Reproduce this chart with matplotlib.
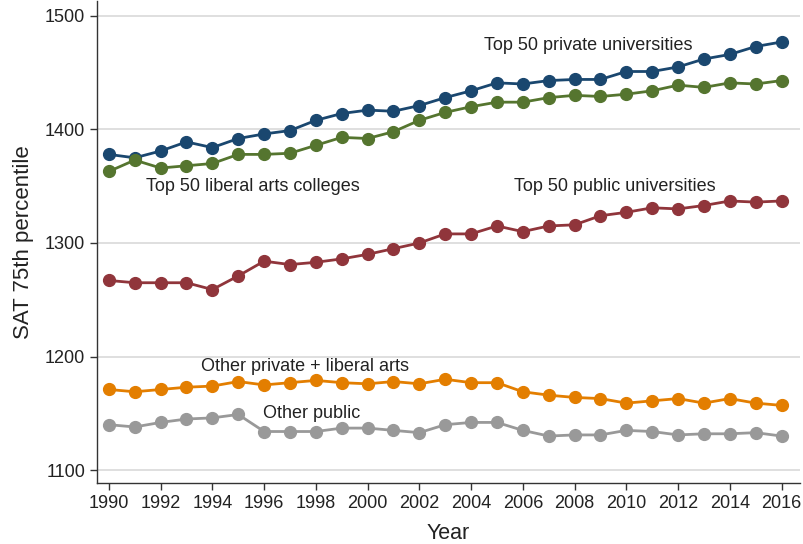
import matplotlib
matplotlib.use("Agg")
import matplotlib.pyplot as plt
from matplotlib import font_manager

years = list(range(1990, 2017))

top_private = [1378, 1375, 1381, 1389, 1384, 1392, 1396, 1399, 1408, 1414, 1417, 1416, 1421,
               1428, 1434, 1441, 1440, 1443, 1444, 1444, 1451, 1451, 1455, 1462, 1466, 1473, 1477]
top_libarts = [1363, 1373, 1366, 1368, 1370, 1378, 1378, 1379, 1386, 1393, 1392, 1398, 1408,
               1415, 1420, 1424, 1424, 1428, 1430, 1429, 1431, 1434, 1439, 1437, 1441, 1440, 1443]
top_public = [1267, 1265, 1265, 1265, 1259, 1271, 1284, 1281, 1283, 1286, 1290, 1295, 1300,
              1308, 1308, 1315, 1310, 1315, 1316, 1324, 1327, 1331, 1330, 1333, 1337, 1336, 1337]
other_private = [1171, 1169, 1171, 1173, 1174, 1178, 1175, 1177, 1179, 1177, 1176, 1178, 1176,
                 1180, 1177, 1177, 1169, 1166, 1164, 1163, 1159, 1161, 1163, 1159, 1163, 1159, 1157]
other_public = [1140, 1138, 1142, 1145, 1146, 1149, 1134, 1134, 1134, 1137, 1137, 1135, 1133,
                1140, 1142, 1142, 1135, 1130, 1131, 1131, 1135, 1134, 1131, 1132, 1132, 1133, 1130]

series = [
    (top_private, "#1a476f", "Top 50 private universities", 2004.5, 1474),
    (top_libarts, "#55752f", "Top 50 liberal arts colleges", 1991.45, 1350),
    (top_public, "#90353b", "Top 50 public universities", 2005.65, 1350),
    (other_private, "#e37e00", "Other private + liberal arts", 1993.55, 1191),
    (other_public, "#999999", "Other public", 1995.95, 1150),
]

xticks = list(range(1990, 2017, 2))
yticks = [1100, 1200, 1300, 1400, 1500]

names = {f.name for f in font_manager.fontManager.ttflist}
narrow = "Liberation Sans Narrow" if "Liberation Sans Narrow" in names else "Liberation Sans"
plt.rcParams['font.family'] = ['Liberation Sans', 'DejaVu Sans']

fig = plt.figure(figsize=(8.04, 5.44), dpi=100)
ax = fig.add_axes([0.1206, 0.112, 0.874, 0.886])

for vals, col, lab, lx, ly in series:
    ax.plot(years, vals, color=col, lw=2.0, marker='o', markersize=8.5, zorder=3)
    ax.text(lx, ly, lab, fontsize=13, color="#222222", ha='left', va='center', zorder=4)

ax.set_xlim(1989.54, 2016.7)
ax.set_ylim(1088.6, 1513)
ax.set_xticks(xticks)
ax.set_yticks(yticks)
ax.set_xticklabels([str(t) for t in xticks], fontsize=13, family=[narrow, 'DejaVu Sans'])
ax.set_yticklabels([str(t) for t in yticks], fontsize=13, family=[narrow, 'DejaVu Sans'])
ax.grid(axis='y', color='#d9d9d9', lw=1.2, zorder=0)
for s in ['top', 'right']:
    ax.spines[s].set_visible(False)
for s in ['left', 'bottom']:
    ax.spines[s].set_color('#333333')
    ax.spines[s].set_linewidth(1.0)
ax.tick_params(axis='both', direction='out', length=5, width=1.0, color='#333333', labelcolor='#222222')
ax.set_xlabel("Year", fontsize=15.5, color='#222222', labelpad=8)
ax.set_ylabel("SAT 75th percentile", fontsize=16, color='#222222', labelpad=8)

fig.savefig("out.png", dpi=100)
